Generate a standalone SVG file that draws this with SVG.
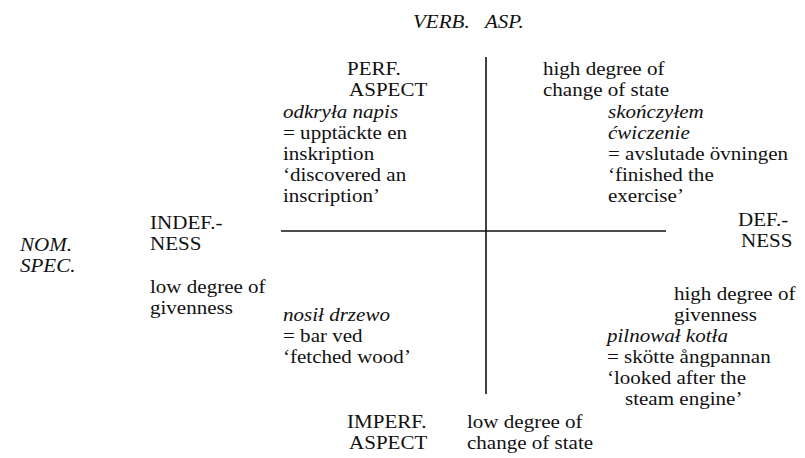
<svg xmlns="http://www.w3.org/2000/svg" width="805" height="458" viewBox="0 0 805 458">
<style>
text{font-family:"Liberation Serif","Times New Roman","DejaVu Serif",serif;font-size:18.8px;fill:#111}
.i{font-style:italic}
.ax{stroke:#111;stroke-width:1.6;fill:none}
</style>
<rect width="805" height="458" fill="#fff"/>
<g id="connectors">
<line class="ax" x1="486" y1="57" x2="486" y2="394"/>
<line class="ax" x1="281" y1="231" x2="666" y2="231"/>
</g>
<g transform="scale(1.12 1)" font-family="Liberation Serif, Times New Roman, serif">
<g id="verb-asp"><text class="i" x="368.75" y="28">VERB.</text><text class="i" x="433.04" y="28">ASP.</text></g>
<g id="perf-aspect"><text x="309.82" y="75">PERF.</text><text x="311.61" y="96">ASPECT</text></g>
<g id="high-change"><text x="484.82" y="75">high degree of</text><text x="484.82" y="96">change of state</text></g>
<g id="odkryla">
<text class="i" x="252.68" y="118">odkryła napis</text>
<text x="252.68" y="139">= upptäckte en</text>
<text x="252.68" y="160">inskription</text>
<text x="252.68" y="181">‘discovered an</text>
<text x="252.68" y="202">inscription’</text>
</g>
<g id="skonczylem">
<text class="i" x="542.86" y="118">skończyłem</text>
<text class="i" x="542.86" y="139">ćwiczenie</text>
<text x="542.86" y="160">= avslutade övningen</text>
<text x="542.86" y="181">‘finished the</text>
<text x="542.86" y="202">exercise’</text>
</g>
<g id="indef"><text x="133.93" y="229">INDEF.-</text><text x="133.93" y="250">NESS</text></g>
<g id="nom-spec"><text class="i" x="17.86" y="251">NOM.</text><text class="i" x="17.86" y="272">SPEC.</text></g>
<g id="def"><text x="658.93" y="226">DEF.-</text><text x="661.61" y="247">NESS</text></g>
<g id="low-given"><text x="133.93" y="293">low degree of</text><text x="133.93" y="314">givenness</text></g>
<g id="high-given"><text x="601.79" y="300">high degree of</text><text x="601.79" y="321">givenness</text></g>
<g id="nosil">
<text class="i" x="252.68" y="321">nosił drzewo</text>
<text x="252.68" y="342">= bar ved</text>
<text x="252.68" y="363">‘fetched wood’</text>
</g>
<g id="pilnowal">
<text class="i" x="541.96" y="342">pilnował kotła</text>
<text x="541.96" y="363">= skötte ångpannan</text>
<text x="541.96" y="384">‘looked after the</text>
<text x="558.04" y="405">steam engine’</text>
</g>
<g id="imperf-aspect"><text x="309.82" y="428">IMPERF.</text><text x="311.61" y="449">ASPECT</text></g>
<g id="low-change"><text x="416.96" y="428">low degree of</text><text x="416.96" y="449">change of state</text></g>
</g>
</svg>
